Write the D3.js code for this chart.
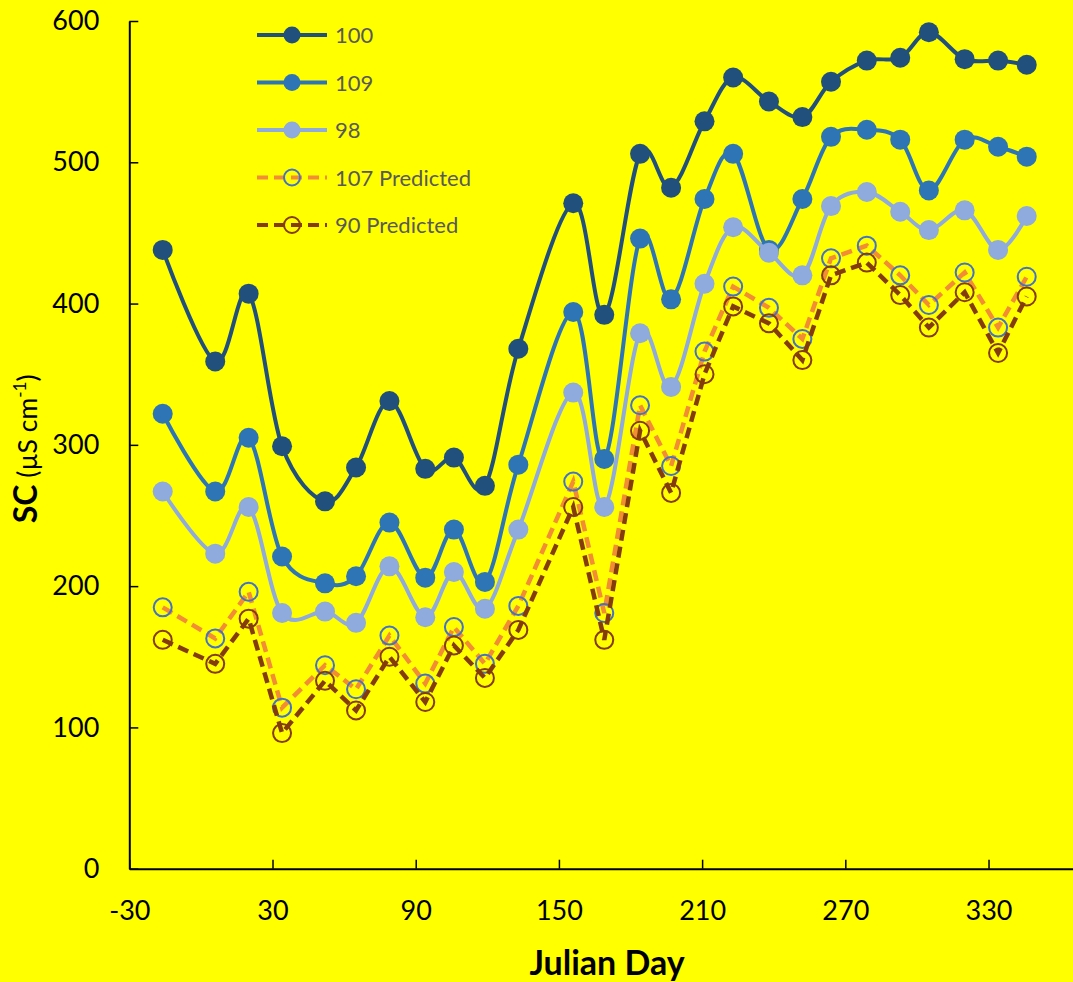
<!DOCTYPE html>
<html>
<head>
<meta charset="utf-8">
<script src="https://cdn.jsdelivr.net/npm/d3@7"></script>
<style>
  html, body { margin: 0; padding: 0; background: #ffff00; }
  svg { display: block; font-family: Lato, "Open Sans", sans-serif; }
</style>
</head>
<body>
<svg id="chart" width="1073" height="982"></svg>
<script>
// data
const days = [-16, 6, 20, 34, 52, 65, 79, 94, 106, 119, 133, 156, 169, 184, 197, 211, 223, 238, 252, 264, 279, 293, 305, 320, 334, 346];
const site100 = [438, 359, 407, 299, 260, 284, 331, 283, 291, 271, 368, 471, 392, 506, 482, 529, 560, 543, 532, 557, 572, 574, 592, 573, 572, 569];
const site109 = [322, 267, 305, 221, 202, 207, 245, 206, 240, 203, 286, 394, 290, 446, 403, 474, 506, 438, 474, 518, 523, 516, 480, 516, 511, 504];
const site98 = [267, 223, 256, 181, 182, 174, 214, 178, 210, 184, 240, 337, 256, 379, 341, 414, 454, 436, 420, 469, 479, 465, 452, 466, 438, 462];
const pred107 = [185, 163, 196, 114, 144, 127, 165, 131, 171, 145, 186, 274, 181, 328, 285, 366, 412, 397, 375, 432, 441, 420, 399, 422, 383, 419];
const pred90 = [162, 145, 177, 96, 133, 112, 150, 118, 158, 135, 169, 256, 162, 310, 266, 350, 398, 386, 360, 420, 429, 406, 383, 408, 365, 405];
const seriesNames = ['100', '109', '98', '107 Predicted', '90 Predicted'];
const xTicks = [-30, 30, 90, 150, 210, 270, 330];
const yTicks = [0, 100, 200, 300, 400, 500, 600];

// styles
const styles = [
    { line: '#22507d', marker: '#22507d', filled: true, dash: null, smooth: true },
    { line: '#2e75b6', marker: '#2e75b6', filled: true, dash: null, smooth: true },
    { line: '#8faadc', marker: '#8faadc', filled: true, dash: null, smooth: true },
    { line: '#f28c35', marker: '#4472c4', filled: false, dash: '11,6', smooth: false },
    { line: '#843c0c', marker: '#843c0c', filled: false, dash: '11,6', smooth: false },
];
const values = [site100, site109, site98, pred107, pred90];

const svg = d3.select('#chart');
const x = d3.scaleLinear().domain([-30, 370]).range([129.3, 1084]);
const y = d3.scaleLinear().domain([0, 600]).range([868.7, 21]);

// axes
const xAxisG = svg.append('g')
    .attr('transform', `translate(0,${y(0)})`)
    .call(d3.axisBottom(x).tickValues(xTicks).tickFormat(d => String(d))
        .tickSize(-9).tickSizeOuter(0).tickPadding(32));
const yAxisG = svg.append('g')
    .attr('transform', `translate(${x(-30)},0)`)
    .call(d3.axisLeft(y).tickValues(yTicks).tickFormat(d => String(d))
        .tickSize(-9).tickSizeOuter(0).tickPadding(30));
[xAxisG, yAxisG].forEach(g => {
    g.select('.domain').attr('stroke', '#000').attr('stroke-width', 2);
    g.selectAll('.tick line').attr('stroke', '#000').attr('stroke-width', 1.5);
    g.selectAll('.tick text').attr('fill', '#000').style('font-size', '27px').style('font-family', 'Lato, sans-serif');
});

// axis titles
svg.append('text')
    .attr('x', 607).attr('y', 975)
    .attr('text-anchor', 'middle')
    .style('font-size', '34px').style('font-weight', 'bold')
    .text('Julian Day');

const yTitle = svg.append('text')
    .attr('transform', `translate(37,${y(300) + 4}) rotate(-90)`)
    .attr('text-anchor', 'middle')
    .style('font-size', '26.5px');
yTitle.append('tspan').style('font-weight', 'bold').style('font-size', '32px').text('SC');
yTitle.append('tspan').text(' (µS cm');
yTitle.append('tspan').attr('dy', '-11').style('font-size', '17px').text('-1');
yTitle.append('tspan').attr('dy', '11').text(')');

// series
const plot = svg.append('g');
values.forEach((vals, i) => {
    const st = styles[i];
    const pts = days.map((d, j) => ({ day: d, value: vals[j] }));
    const line = d3.line()
        .x(d => x(d.day))
        .y(d => y(d.value))
        .curve(st.smooth ? d3.curveCatmullRom.alpha(0) : d3.curveLinear);
    const g = plot.append('g');
    g.append('path')
        .attr('d', line(pts))
        .attr('fill', 'none')
        .attr('stroke', st.line)
        .attr('stroke-width', st.dash ? 4.5 : 4)
        .attr('stroke-dasharray', st.dash);
    g.selectAll('circle').data(pts).join('circle')
        .attr('cx', d => x(d.day))
        .attr('cy', d => y(d.value))
        .attr('r', st.filled ? 10 : 9)
        .attr('fill', st.filled ? st.marker : 'none')
        .attr('stroke', st.marker)
        .attr('stroke-width', st.filled ? 0 : 2);
});

// legend
const legend = svg.append('g');
seriesNames.forEach((name, i) => {
    const st = styles[i];
    const cy = 35 + i * 47.5;
    legend.append('line')
        .attr('x1', 257).attr('x2', 327).attr('y1', cy).attr('y2', cy)
        .attr('stroke', st.line).attr('stroke-width', 4)
        .attr('stroke-dasharray', st.dash);
    legend.append('circle')
        .attr('cx', 292).attr('cy', cy)
        .attr('r', st.filled ? 8.5 : 8)
        .attr('fill', st.filled ? st.marker : 'none')
        .attr('stroke', st.marker)
        .attr('stroke-width', st.filled ? 0 : 2);
    legend.append('text')
        .attr('x', 335).attr('y', cy + 8)
        .attr('fill', '#595959')
        .style('font-size', '22px')
        .text(name);
});
</script>
</body>
</html>
